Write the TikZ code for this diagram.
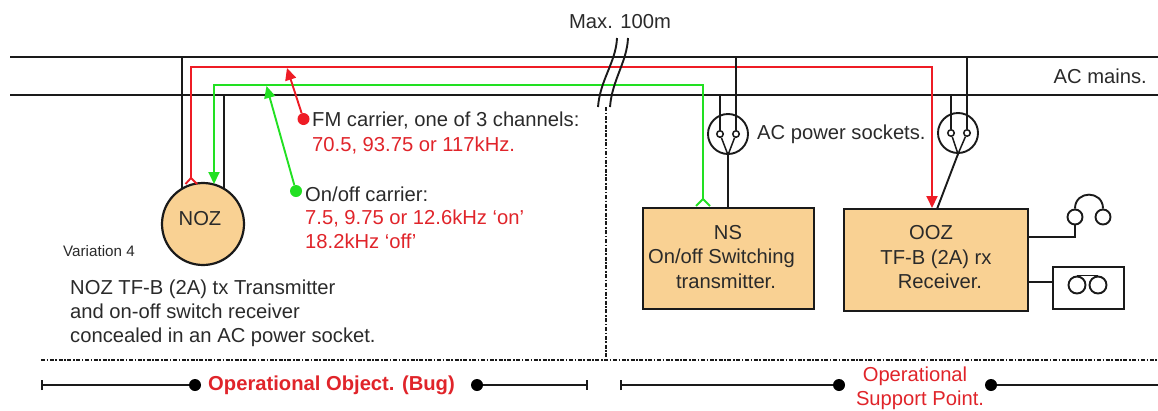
\documentclass[tikz,border=0pt]{standalone}
\usepackage{fontspec}
\setmainfont{Liberation Sans}
\usetikzlibrary{arrows.meta}
\definecolor{wire}{HTML}{1A1A1A}
\definecolor{txt}{HTML}{2A2A2A}
\definecolor{redw}{HTML}{EE1C25}
\definecolor{redt}{HTML}{E0242A}
\definecolor{greenw}{HTML}{22E022}
\definecolor{boxfill}{HTML}{F9D193}
\tikzset{
  wireline/.style={draw=wire,line width=1.9pt},
  thinwire/.style={draw=wire,line width=1.5pt},
  redline/.style={draw=redw,line width=1.9pt},
  greenline/.style={draw=greenw,line width=1.9pt},
  unitbox/.style={draw=wire,line width=2pt,fill=boxfill,inner sep=0pt},
  unittext/.style={inner sep=0pt,align=center,text=txt,font=\fontsize{20.2}{24.5}\selectfont},
  nozcircle/.style={circle,draw=wire,line width=2.2pt,fill=boxfill,inner sep=0pt,minimum size=82pt},
  socket/.style={circle,draw=wire,line width=1.9pt,inner sep=0pt,minimum size=40pt},
  pin/.style={circle,draw=wire,line width=1.5pt,fill=white,inner sep=0pt,minimum size=6.5pt},
  reddot/.style={circle,fill=redw,inner sep=0pt,minimum size=12pt},
  greendot/.style={circle,fill=greenw,inner sep=0pt,minimum size=12pt},
  blackdot/.style={circle,fill=black,inner sep=0pt,minimum size=12pt},
  label/.style={inner sep=0pt,text=txt,align=left,font=\fontsize{20.2}{24}\selectfont},
  redlabel/.style={inner sep=0pt,text=redt,align=center,font=\fontsize{20.2}{24}\selectfont},
  border/.style={draw=wire,line width=1.9pt,dash pattern=on 4pt off 1.6pt on 1.6pt off 1.6pt},
  span/.style={draw=wire,line width=1.9pt,{Bar[width=10pt,line width=1.6pt]}-},
  spanr/.style={draw=wire,line width=1.9pt,-{Bar[width=10pt,line width=1.6pt]}},
  plainspan/.style={draw=wire,line width=1.9pt},
  earpiece/.style={circle,draw=wire,line width=1.9pt,inner sep=0pt,minimum size=15pt},
  spool/.style={circle,draw=wire,line width=1.9pt,inner sep=0pt,minimum size=17pt},
}
\begin{document}
\begin{tikzpicture}[x=1pt,y=-1pt]
\useasboundingbox (0,0) rectangle (1158,410);
\coordinate (tl) at (10,57); \coordinate (tr) at (1158,57);
\coordinate (bl) at (10,95); \coordinate (br) at (1158,95);
\node[nozcircle] (noz) at (203,224) {};
\node[unittext] (nozt) at (200,219) {NOZ};
\node[unitbox,minimum width=171pt,minimum height=101pt] (ns) at (728.5,258.5) {};
\node[unittext] (nst) at (728,257) {NS\\\hspace*{-13pt}On/off Switching\\\hspace*{-4pt}transmitter.};
\node[unitbox,minimum width=184pt,minimum height=102pt] (ooz) at (936,260) {};
\node[unittext] (oozt) at (936,257.5) {\hspace*{-10pt}OOZ\\TF-B (2A) rx\\\hspace*{8pt}Receiver.};
\node[socket] (s1) at (728,134) {};
\node[socket] (s2) at (958,133) {};
\node[pin] (p1a) at (720,134) {};
\node[pin] (p1b) at (736,134) {};
\node[pin] (p2a) at (951,133) {};
\node[pin] (p2b) at (967,133) {};
\draw[wireline] (tl) -- (tr);
\draw[wireline] (bl) -- (br);
\coordinate (rs) at (191,178);
\coordinate (rc1) at (191,67);
\coordinate (rc2) at (932,67);
\coordinate (re) at (932,208);
\coordinate (rfa) at (185.5,184); \coordinate (rfb) at (197,184);
\draw[redline,line join=miter] (rfa) -- (rs) -- (rfb);
\draw[redline,-{Triangle[length=12pt,width=11pt]}] (rs) -- (rc1) -- (rc2) -- (re);
\coordinate (gs) at (214,184);
\coordinate (gc1) at (214,85);
\coordinate (gc2) at (703,85);
\coordinate (ge) at (703,199);
\coordinate (gfa) at (696,206); \coordinate (gfb) at (710,206);
\draw[greenline,{Triangle[length=12pt,width=11pt]}-] (gs) -- (gc1) -- (gc2) -- (ge);
\draw[greenline] (gfa) -- (ge) -- (gfb);
\draw[wireline] (noz.120) -- (noz.120 |- tl);
\draw[wireline] (noz.60) -- (noz.60 |- bl);
\draw[wireline] (p1a) -- (p1a |- bl);
\draw[wireline] (p1b) -- (p1b |- tl);
\draw[wireline] (p2a) -- (p2a |- bl);
\draw[wireline] (p2b) -- (p2b |- tl);
\draw[thinwire] (p1a) -- (s1.south) -- (p1b);
\draw[thinwire] (p2a) -- (s2.south) -- (p2b);
\draw[wireline] (s1.south) -- (s1.south |- ns.north);
\coordinate (oozin) at (937,209);
\draw[wireline] (s2.south) -- (oozin);
\node[reddot] (rd) at (303.5,119) {};
\node[greendot] (gd) at (296,191) {};
\coordinate (rt) at (287,68);
\coordinate (gt) at (266.5,86);
\draw[redline,-{Triangle[length=12pt,width=11pt]}] (rd) -- (rt);
\draw[greenline,-{Triangle[length=12pt,width=11pt]}] (gd) -- (gt);
\coordinate (b1t) at (617,38); \coordinate (b1b) at (598,107);
\coordinate (b2t) at (628,38); \coordinate (b2b) at (610,107);
\draw[wireline] (b1t) .. controls (616,62) and (600,80) .. (b1b);
\draw[wireline] (b2t) .. controls (627,62) and (612,80) .. (b2b);
\coordinate (vt) at (606,107); \coordinate (vb) at (606,360);
\coordinate (hl) at (41,360); \coordinate (hr) at (1158,360);
\draw[border] (vt) -- (vb);
\draw[border] (hl) -- (hr);
\node[earpiece] (hp1) at (1075,217) {};
\node[earpiece] (hp2) at (1103,217) {};
\draw[wireline] (hp1.north) .. controls (1075,190) and (1103,190) .. (hp2.north);
\coordinate (hpj) at (1075,237);
\draw[wireline] (ooz.east |- hpj) -- (hpj) -- (hp1.south);
\node[draw=wire,line width=1.9pt,minimum width=71pt,minimum height=42pt,inner sep=0pt] (tape) at (1088.5,288) {};
\node[spool] (t1) at (1077,285) {};
\node[spool] (t2) at (1098,285) {};
\draw[thinwire] (t1.north) -- (t2.north);
\coordinate (tj) at (1052,282);
\draw[wireline] (ooz.east |- tj) -- (tape.west |- tj);
\node[label] (maxl) at (620,22) {Max. 100m};
\node[label,anchor=east] (acm) at (1147,76.5) {AC mains.};
\node[label,anchor=west] (acs) at (757,134) {AC power sockets.};
\node[label,anchor=west] (fm) at (312,120.5) {FM carrier, one of 3 channels:};
\node[label,anchor=west,text=redt] (fmv) at (312,145) {70.5, 93.75 or 117kHz.};
\node[label,anchor=west] (oo) at (305,194) {On/off carrier:};
\node[label,anchor=west,text=redt] (oov) at (305,229.5) {7.5, 9.75 or 12.6kHz ‘on’\\18.2kHz ‘off’};
\node[label,anchor=west,font=\fontsize{15.2}{20}\selectfont] (var) at (63,251) {Variation 4};
\node[label,anchor=west] (desc) at (70,313) {NOZ TF-B (2A) tx Transmitter\\and on-off switch receiver\\concealed in an AC power socket.};
\node[blackdot] (d1) at (195,385) {};
\node[blackdot] (d2) at (477,385) {};
\node[blackdot] (d3) at (839,385) {};
\node[blackdot] (d4) at (991,385) {};
\coordinate (s1l) at (41,385); \coordinate (s1r) at (588,385);
\coordinate (s2l) at (620,385); \coordinate (s2r) at (1158,385);
\draw[span] (s1l) -- (d1);
\draw[spanr] (d2) -- (s1r);
\draw[span] (s2l) -- (d3);
\draw[plainspan] (d4) -- (s2r);
\node[inner sep=0pt,text=redt,font=\fontsize{20.2}{24}\selectfont\bfseries] (oob) at (331.5,385.5) {Operational Object. (Bug)};
\node[redlabel] (osp) at (918,388.5) {\hspace*{-6pt}Operational\\\hspace*{4pt}Support Point.};
\end{tikzpicture}
\end{document}
